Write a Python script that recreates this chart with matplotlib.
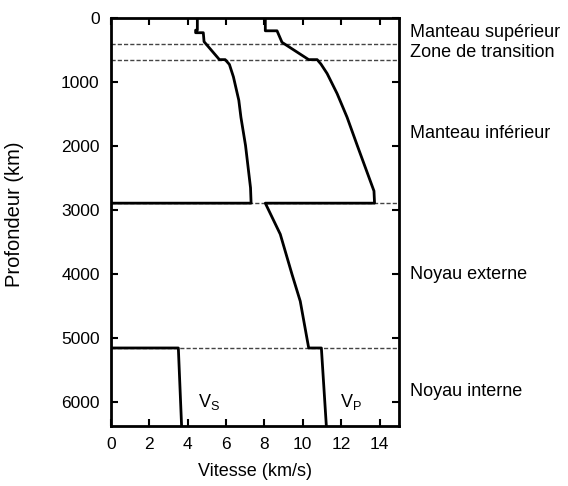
import matplotlib
matplotlib.use("Agg")
import matplotlib.pyplot as plt
import matplotlib.transforms as mtransforms

plt.rcParams["font.family"] = ["Liberation Sans", "DejaVu Sans"]
plt.rcParams["mathtext.fontset"] = "custom"
plt.rcParams["mathtext.rm"] = "Liberation Sans"
plt.rcParams["mathtext.it"] = "Liberation Sans"

# Vitesse des ondes S (km/s) en fonction de la profondeur (km)
vs_depth = [0, 190, 190, 230, 230, 370, 650, 650, 725, 920, 1285, 1550, 1990, 2650, 2890,
            2890, 5150, 5150, 6371]
vs_speed = [4.51, 4.51, 4.42, 4.42, 4.82, 4.86, 5.66, 5.96, 6.18, 6.39, 6.67, 6.78, 7.02, 7.28, 7.31,
            0.0, 0.0, 3.52, 3.69]

# Vitesse des ondes P
vp_depth = [0, 200, 200, 380, 650, 650, 720, 867, 1180, 1550, 1990, 2700, 2890,
            2890, 3375, 4000, 4420, 5150, 5150, 6371]
vp_speed = [8.05, 8.05, 8.66, 8.92, 10.31, 10.75, 10.95, 11.27, 11.79, 12.31, 12.84, 13.71, 13.74,
            8.05, 8.83, 9.44, 9.87, 10.31, 10.97, 11.23]

# Discontinuités et couches
boundaries = [400, 660, 2890, 5150]
layer_names = ["Manteau supérieur", "Zone de transition", "Manteau inférieur",
               "Noyau externe", "Noyau interne"]
layer_depths = [220, 540, 1800, 4010, 5830]

fig = plt.figure(figsize=(5.68, 4.86), dpi=100)
ax = fig.add_axes([0.195, 0.123, 0.507, 0.84])

for d in boundaries:
    ax.axhline(d, color="#444444", lw=1.0, ls=(0, (3, 1.5)), zorder=1)

ax.plot(vs_speed, vs_depth, color="black", lw=2.0, zorder=3)
ax.plot(vp_speed, vp_depth, color="black", lw=2.0, zorder=3)

ax.text(4.55, 5990, r"V$_{\rm S}$", fontsize=13, va="center", ha="left")
ax.text(11.96, 5990, r"V$_{\rm P}$", fontsize=13, va="center", ha="left")

trans = mtransforms.blended_transform_factory(ax.transAxes, ax.transData)
for name, d in zip(layer_names, layer_depths):
    ax.text(1.038, d, name, transform=trans, fontsize=13, va="center", ha="left")

ax.set_xlim(0, 15)
ax.set_ylim(6371, 0)
ax.set_xticks(range(0, 16, 2))
ax.set_yticks(range(0, 7000, 1000))
ax.tick_params(direction="in", top=True, right=True, length=5, width=1.5,
               labelsize=12.5, pad=8)
for s in ax.spines.values():
    s.set_linewidth(2.0)

ax.set_xlabel("Vitesse (km/s)", fontsize=13, labelpad=8)
ax.set_ylabel("Profondeur (km)", fontsize=14.5)
ax.yaxis.set_label_coords(-0.30, 0.52)

fig.savefig("out.png", dpi=100)
